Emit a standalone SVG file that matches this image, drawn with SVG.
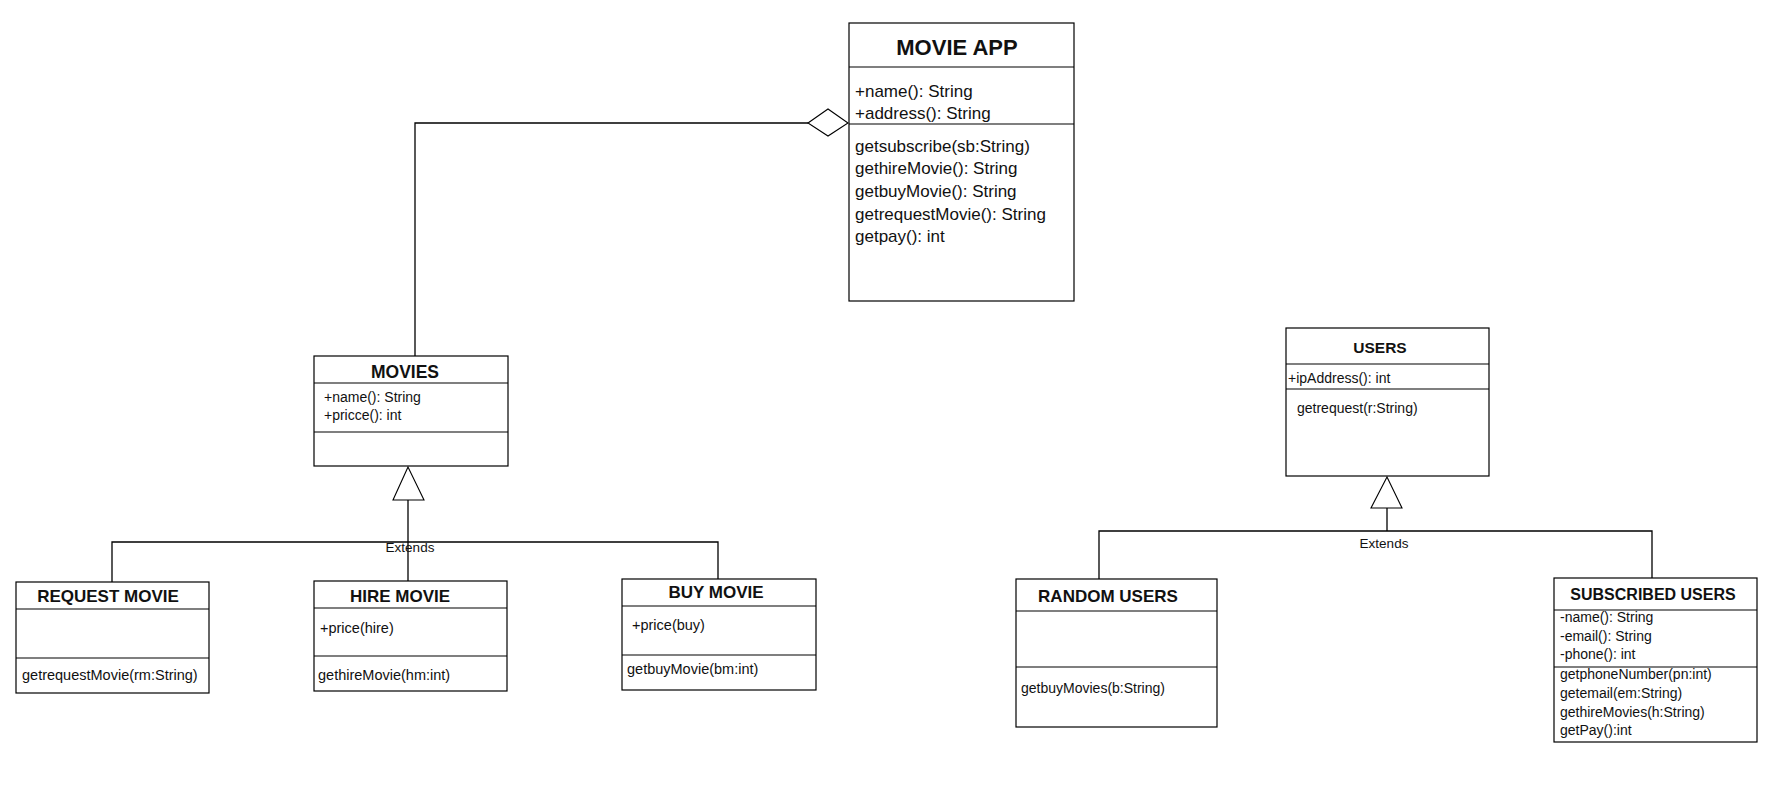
<svg xmlns="http://www.w3.org/2000/svg" width="1779" height="785" viewBox="0 0 1779 785">
<style>
.box{fill:#fff;stroke:#000;stroke-width:1.2}
.div{stroke:#000;stroke-width:1.2}
.ln{fill:none;stroke:#000;stroke-width:1.3}
.head{fill:#fff;stroke:#000;stroke-width:1.1}
text{font-family:"Liberation Sans",Arial,sans-serif;fill:#111}
.t{font-weight:bold;text-anchor:middle;font-size:17px}
.m{font-size:14.5px}
.b{font-size:17px}
.x{font-size:13.5px;text-anchor:middle}
</style>
<rect width="1779" height="785" fill="#fff"/>
<g id="connectors">
<path class="ln" d="M415,356 V123 H808"/>
<polygon class="head" points="808,123 828,109 848,123 828,136"/>
<path class="ln" d="M112,582 V542 H718 V580"/>
<path class="ln" d="M408,500 V581"/>
<polygon class="head" points="408,467 393,500 424,500"/>
<text class="x" x="410" y="552">Extends</text>
<path class="ln" d="M1099,579 V531 H1652 V578"/>
<path class="ln" d="M1387,508 V531"/>
<polygon class="head" points="1387,477 1371,508 1402,508"/>
<text class="x" x="1384" y="548">Extends</text>
</g>
<g id="movie-app">
<rect class="box" x="849" y="23" width="225" height="278"/>
<line class="div" x1="849" y1="67" x2="1074" y2="67"/>
<line class="div" x1="849" y1="124" x2="1074" y2="124"/>
<text class="t" x="957" y="55" style="font-size:22px">MOVIE APP</text>
<text class="b" x="855" y="97">+name(): String</text>
<text class="b" x="855" y="119">+address(): String</text>
<text class="b" x="855" y="152">getsubscribe(sb:String)</text>
<text class="b" x="855" y="174">gethireMovie(): String</text>
<text class="b" x="855" y="197">getbuyMovie(): String</text>
<text class="b" x="855" y="220">getrequestMovie(): String</text>
<text class="b" x="855" y="242">getpay(): int</text>
</g>
<g id="movies">
<rect class="box" x="314" y="356" width="194" height="110"/>
<line class="div" x1="314" y1="383" x2="508" y2="383"/>
<line class="div" x1="314" y1="432" x2="508" y2="432"/>
<text class="t" x="405" y="378" style="font-size:17.5px">MOVIES</text>
<text class="m" x="324" y="402" style="font-size:14px">+name(): String</text>
<text class="m" x="324" y="420" style="font-size:14px">+pricce(): int</text>
</g>
<g id="request-movie">
<rect class="box" x="16" y="582" width="193" height="111"/>
<line class="div" x1="16" y1="609" x2="209" y2="609"/>
<line class="div" x1="16" y1="658" x2="209" y2="658"/>
<text class="t" x="108" y="602">REQUEST MOVIE</text>
<text class="m" x="22" y="680">getrequestMovie(rm:String)</text>
</g>
<g id="hire-movie">
<rect class="box" x="314" y="581" width="193" height="110"/>
<line class="div" x1="314" y1="608" x2="507" y2="608"/>
<line class="div" x1="314" y1="656" x2="507" y2="656"/>
<text class="t" x="400" y="602">HIRE MOVIE</text>
<text class="m" x="320" y="633">+price(hire)</text>
<text class="m" x="318" y="680">gethireMovie(hm:int)</text>
</g>
<g id="buy-movie">
<rect class="box" x="622" y="579" width="194" height="111"/>
<line class="div" x1="622" y1="606" x2="816" y2="606"/>
<line class="div" x1="622" y1="655" x2="816" y2="655"/>
<text class="t" x="716" y="598">BUY MOVIE</text>
<text class="m" x="632" y="630">+price(buy)</text>
<text class="m" x="627" y="674">getbuyMovie(bm:int)</text>
</g>
<g id="users">
<rect class="box" x="1286" y="328" width="203" height="148"/>
<line class="div" x1="1286" y1="364" x2="1489" y2="364"/>
<line class="div" x1="1286" y1="389" x2="1489" y2="389"/>
<text class="t" x="1380" y="353" style="font-size:15.5px">USERS</text>
<text class="m" x="1288" y="383" style="font-size:14px">+ipAddress(): int</text>
<text class="m" x="1297" y="413" style="font-size:14px">getrequest(r:String)</text>
</g>
<g id="random-users">
<rect class="box" x="1016" y="579" width="201" height="148"/>
<line class="div" x1="1016" y1="611" x2="1217" y2="611"/>
<line class="div" x1="1016" y1="667" x2="1217" y2="667"/>
<text class="t" x="1108" y="602">RANDOM USERS</text>
<text class="m" x="1021" y="693" style="font-size:14px">getbuyMovies(b:String)</text>
</g>
<g id="subscribed-users">
<rect class="box" x="1554" y="578" width="203" height="164"/>
<line class="div" x1="1554" y1="610" x2="1757" y2="610"/>
<line class="div" x1="1554" y1="667" x2="1757" y2="667"/>
<text class="t" x="1653" y="600" style="font-size:16px">SUBSCRIBED USERS</text>
<text class="m" x="1560" y="622" style="font-size:14px">-name(): String</text>
<text class="m" x="1560" y="641" style="font-size:14px">-email(): String</text>
<text class="m" x="1560" y="659" style="font-size:14px">-phone(): int</text>
<text class="m" x="1560" y="679" style="font-size:14px">getphoneNumber(pn:int)</text>
<text class="m" x="1560" y="698" style="font-size:14px">getemail(em:String)</text>
<text class="m" x="1560" y="717" style="font-size:14px">gethireMovies(h:String)</text>
<text class="m" x="1560" y="735" style="font-size:14px">getPay():int</text>
</g>
</svg>
